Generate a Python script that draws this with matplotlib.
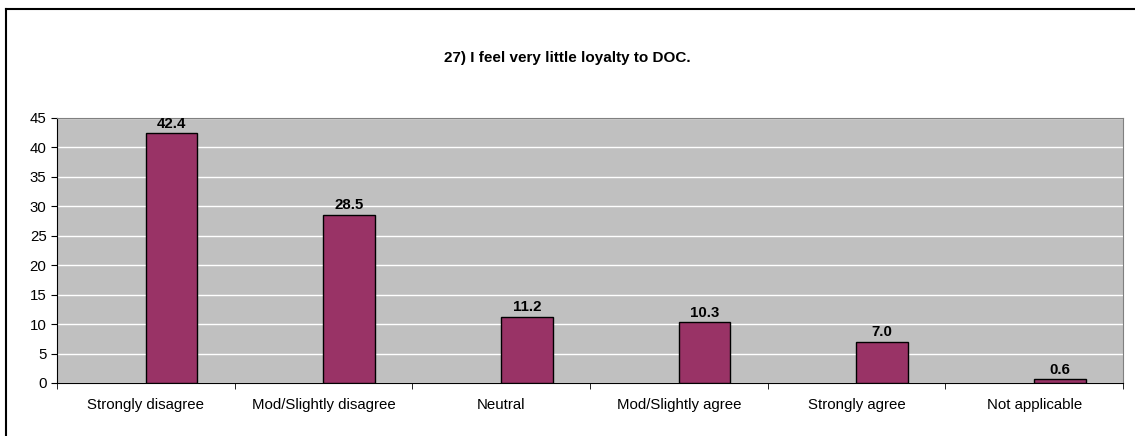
import matplotlib.pyplot as plt
import numpy as np
from matplotlib.lines import Line2D

plt.rcParams['font.family'] = ['Liberation Sans', 'DejaVu Sans']

categories = ['Strongly disagree', 'Mod/Slightly disagree', 'Neutral',
              'Mod/Slightly agree', 'Strongly agree', 'Not applicable']
values = [42.4, 28.5, 11.2, 10.3, 7.0, 0.6]
title = '27) I feel very little loyalty to DOC.'

fig = plt.figure(figsize=(11.35, 4.36), dpi=100)
ax = fig.add_axes([0.0502, 0.1216, 0.9392, 0.6078])

x = np.arange(len(categories))
ax.set_facecolor('#C0C0C0')
ax.bar(x, values, width=0.29, align='edge', color='#993366',
       edgecolor='black', linewidth=1, zorder=3)

for xi, v in zip(x, values):
    ax.annotate(f'{v:.1f}', (xi + 0.145, v), xytext=(0, 2), textcoords='offset points',
                ha='center', va='bottom', fontsize=10.8, fontweight='bold')

ax.set_xlim(-0.5, len(categories) - 0.5)
ax.set_ylim(0, 45)
ax.set_yticks(range(0, 46, 5))
ax.yaxis.grid(True, color='white', linewidth=1, zorder=0)
ax.set_axisbelow(True)

ax.set_xticks(x)
ax.set_xticklabels(categories, fontsize=10.8)
ax.set_xticks(np.arange(-0.5, len(categories), 1), minor=True)
ax.tick_params(axis='x', which='major', length=0, pad=11)
ax.tick_params(axis='x', which='minor', length=4, direction='out')
ax.tick_params(axis='y', length=4, direction='out', labelsize=10.8)

for s in ['left', 'bottom']:
    ax.spines[s].set_color('black')
for s in ['top', 'right']:
    ax.spines[s].set_color('#808080')

fig.text(0.5, 0.867, title, ha='center', va='center', fontsize=11, fontweight='bold')

# outer chart frame
fig.add_artist(Line2D([6 / 1135, 1], [1 - 9 / 436, 1 - 9 / 436], color='black', linewidth=1.5))
fig.add_artist(Line2D([6 / 1135, 6 / 1135], [0, 1 - 9 / 436], color='black', linewidth=1.5))

fig.savefig('out.png', dpi=100)
